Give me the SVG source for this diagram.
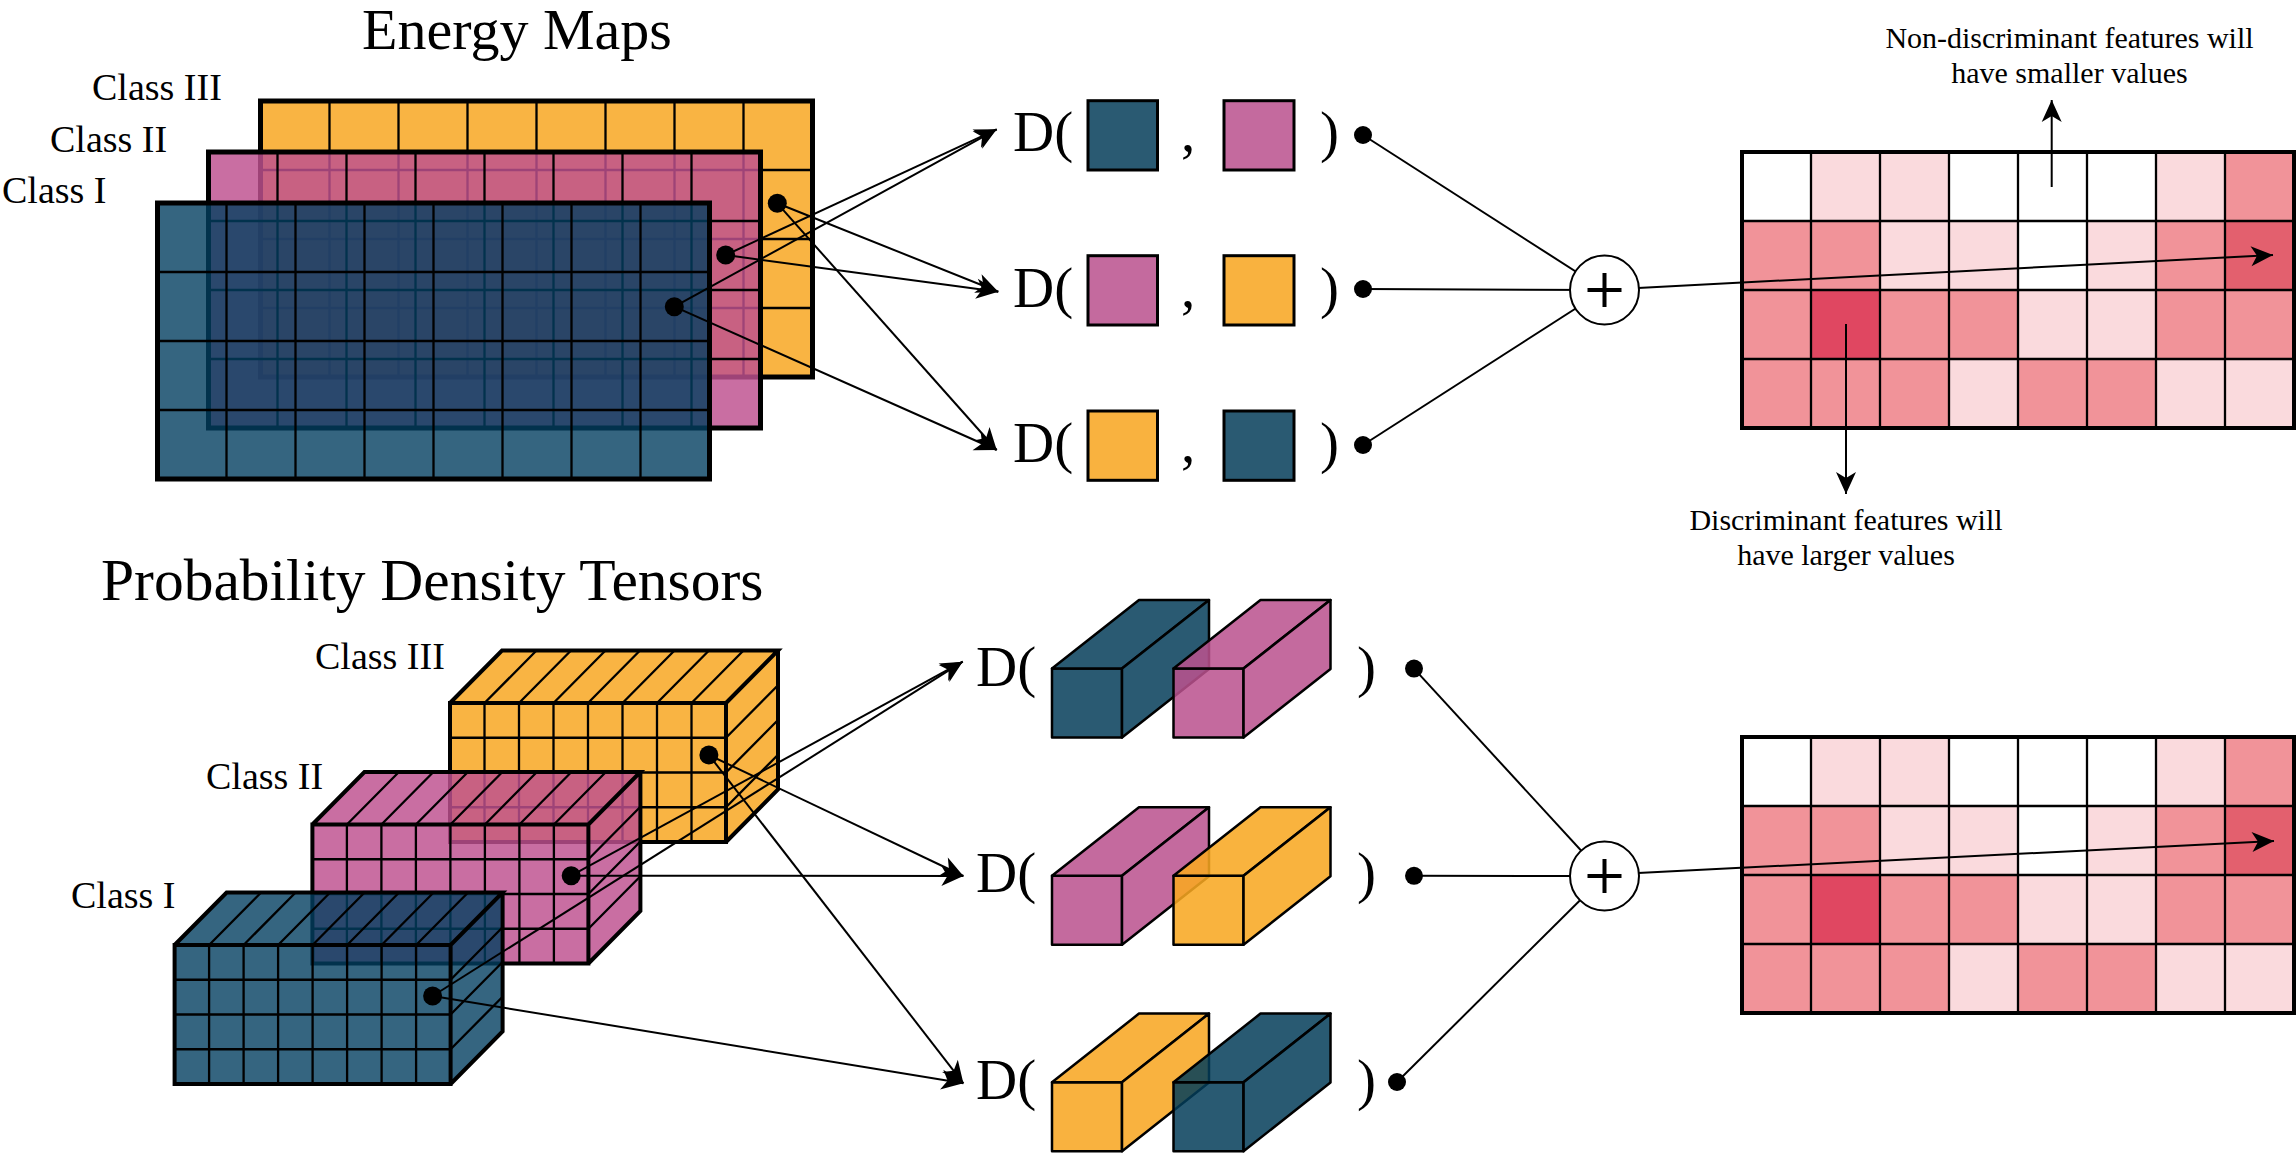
<svg xmlns="http://www.w3.org/2000/svg" xmlns:xlink="http://www.w3.org/1999/xlink" width="2296" height="1154" viewBox="0 0 2296 1154">
<style>
.t{font-family:"Liberation Serif","Times New Roman",serif;fill:#000}
.title{font-size:58px}
.title2{font-size:59.5px}
.cls{font-size:38px}
.D{font-size:57px}
.note{font-size:30px;text-anchor:middle}
.grid{stroke:#000;stroke-width:2.3;fill:none}
.edge{stroke:#000;stroke-width:5;fill:none}
.cedge{stroke:#000;stroke-width:4;fill:none;stroke-linejoin:miter}
.box{stroke:#000;stroke-width:3}
.cub{stroke:#000;stroke-width:2.5;stroke-linejoin:round}
.conn{stroke:#000;stroke-width:2;fill:none}
.arr{stroke:#000;stroke-width:2;fill:none;marker-end:url(#ah)}
.dot{fill:#000}
.plus{fill:#fff;stroke:#000;stroke-width:2}
.pl{stroke:#000;stroke-width:4}
.fy{fill:#f9b443}
.fp{fill:#be508f;fill-opacity:.83}
.fb{fill:#033f60;fill-opacity:.8}
.sb{fill:#2a5a72}
.sp{fill:#c46a9e}
.sy{fill:#f9b23f}
.tp{fill:#ba528e;fill-opacity:.86}
.ty{fill:#f8a821;fill-opacity:.87}
.tb{fill:#043d59;fill-opacity:.85}
.W{fill:#ffffff}.L{fill:#fadadd}.M{fill:#f19399}.R{fill:#e3606e}.X{fill:#e04761}
.hb{stroke:#000;stroke-width:4;fill:none}
</style>
<defs>
<marker id="ah" viewBox="-24 -12 26 24" markerWidth="26" markerHeight="24" refX="0" refY="0" orient="auto" markerUnits="userSpaceOnUse">
<path d="M0,0 L-22,-10 L-16,0 L-22,10 Z" fill="#000"/>
</marker>
<path id="mg" d="M69 0V276M138 0V276M207 0V276M276 0V276M345 0V276M414 0V276M483 0V276M0 69H552M0 138H552M0 207H552"/>
<path id="cg" d="M34.5 0V139M69 0V139M103.5 0V139M138 0V139M172.5 0V139M207 0V139M241.5 0V139M0 34.75H276M0 69.5H276M0 104.25H276M34.5 0L86.5 -52.5M69 0L121 -52.5M103.5 0L155.5 -52.5M138 0L190 -52.5M172.5 0L224.5 -52.5M207 0L259 -52.5M241.5 0L293.5 -52.5M276 34.75L328 -17.75M276 69.5L328 17M276 104.25L328 51.75"/>
<path id="ce" d="M0 0H276V139H0Z M0 0L52 -52.5H328L276 0 M328 -52.5V86.5L276 139"/>
<path id="cf" d="M0 0H276V139H0Z"/>
<path id="ct" d="M0 0L52 -52.5H328L276 0Z"/>
<path id="cr" d="M276 0L328 -52.5V86.5L276 139Z"/>
<path id="qf" d="M0 0H70V69H0Z"/>
<path id="qt" d="M0 0L87 -68.6H157L70 0Z"/>
<path id="qr" d="M70 0L157 -68.6V0.4L70 69Z"/>
<g id="hm">
<rect class="W" x="0" y="0" width="69" height="69"/><rect class="L" x="69" y="0" width="69" height="69"/><rect class="L" x="138" y="0" width="69" height="69"/><rect class="W" x="207" y="0" width="69" height="69"/><rect class="W" x="276" y="0" width="69" height="69"/><rect class="W" x="345" y="0" width="69" height="69"/><rect class="L" x="414" y="0" width="69" height="69"/><rect class="M" x="483" y="0" width="69" height="69"/>
<rect class="M" x="0" y="69" width="69" height="69"/><rect class="M" x="69" y="69" width="69" height="69"/><rect class="L" x="138" y="69" width="69" height="69"/><rect class="L" x="207" y="69" width="69" height="69"/><rect class="W" x="276" y="69" width="69" height="69"/><rect class="L" x="345" y="69" width="69" height="69"/><rect class="M" x="414" y="69" width="69" height="69"/><rect class="R" x="483" y="69" width="69" height="69"/>
<rect class="M" x="0" y="138" width="69" height="69"/><rect class="X" x="69" y="138" width="69" height="69"/><rect class="M" x="138" y="138" width="69" height="69"/><rect class="M" x="207" y="138" width="69" height="69"/><rect class="L" x="276" y="138" width="69" height="69"/><rect class="L" x="345" y="138" width="69" height="69"/><rect class="M" x="414" y="138" width="69" height="69"/><rect class="M" x="483" y="138" width="69" height="69"/>
<rect class="M" x="0" y="207" width="69" height="69"/><rect class="M" x="69" y="207" width="69" height="69"/><rect class="M" x="138" y="207" width="69" height="69"/><rect class="L" x="207" y="207" width="69" height="69"/><rect class="M" x="276" y="207" width="69" height="69"/><rect class="M" x="345" y="207" width="69" height="69"/><rect class="L" x="414" y="207" width="69" height="69"/><rect class="L" x="483" y="207" width="69" height="69"/>
<use xlink:href="#mg" class="grid"/>
<rect class="hb" width="552" height="276"/>
</g>
</defs>

<rect width="2296" height="1154" fill="#fff"/>

<g id="titles">
<text class="t title" x="362" y="49">Energy Maps</text>
<text class="t title2" x="101" y="600">Probability Density Tensors</text>
</g>

<g id="map-class3" transform="translate(260.5,101)">
<rect class="fy" width="552" height="276"/>
<use xlink:href="#mg" class="grid"/>
<rect class="edge" width="552" height="276"/>
</g>
<g id="map-class2" transform="translate(208.5,152)">
<rect class="fp" width="552" height="276"/>
<use xlink:href="#mg" class="grid"/>
<rect class="edge" width="552" height="276"/>
</g>
<g id="map-class1" transform="translate(157.5,203)">
<rect class="fb" width="552" height="276"/>
<use xlink:href="#mg" class="grid"/>
<rect class="edge" width="552" height="276"/>
</g>
<g id="map-labels">
<text class="t cls" x="92" y="100">Class III</text>
<text class="t cls" x="50" y="152">Class II</text>
<text class="t cls" x="2" y="203">Class I</text>
</g>

<g id="cube-class3" transform="translate(450,703)">
<use xlink:href="#cf" class="fy"/><use xlink:href="#ct" class="fy"/><use xlink:href="#cr" class="fy"/>
<use xlink:href="#cg" class="grid"/>
<use xlink:href="#ce" class="cedge"/>
</g>
<g id="cube-class2" transform="translate(312.4,824.5)">
<use xlink:href="#cf" class="fp"/><use xlink:href="#ct" class="fp"/><use xlink:href="#cr" class="fp"/>
<use xlink:href="#cg" class="grid"/>
<use xlink:href="#ce" class="cedge"/>
</g>
<g id="cube-class1" transform="translate(174.6,945)">
<use xlink:href="#cf" class="fb"/><use xlink:href="#ct" class="fb"/><use xlink:href="#cr" class="fb"/>
<use xlink:href="#cg" class="grid"/>
<use xlink:href="#ce" class="cedge"/>
</g>
<g id="cube-labels">
<text class="t cls" x="315" y="669">Class III</text>
<text class="t cls" x="206" y="789">Class II</text>
<text class="t cls" x="71" y="908">Class I</text>
</g>

<g id="d-map-1">
<text class="t D" x="1013" y="151">D(</text>
<rect class="box sb" x="1088" y="100.7" width="69.5" height="69.3"/>
<text class="t D" x="1181" y="151">,</text>
<rect class="box sp" x="1224" y="100.7" width="70" height="69.3"/>
<text class="t D" x="1320" y="151">)</text>
</g>
<g id="d-map-2">
<text class="t D" x="1013" y="307">D(</text>
<rect class="box sp" x="1088" y="255.7" width="69.5" height="69.3"/>
<text class="t D" x="1181" y="307">,</text>
<rect class="box sy" x="1224" y="255.7" width="70" height="69.3"/>
<text class="t D" x="1320" y="307">)</text>
</g>
<g id="d-map-3">
<text class="t D" x="1013" y="462">D(</text>
<rect class="box sy" x="1088" y="411" width="69.5" height="69.3"/>
<text class="t D" x="1181" y="462">,</text>
<rect class="box sb" x="1224" y="411" width="70" height="69.3"/>
<text class="t D" x="1320" y="462">)</text>
</g>

<g id="d-tensor-1">
<text class="t D" x="976" y="686">D(</text>
<g transform="translate(1052,668.6)"><use xlink:href="#qf" class="cub sb"/><use xlink:href="#qt" class="cub sb"/><use xlink:href="#qr" class="cub sb"/></g>
<g transform="translate(1173.5,668.6)"><use xlink:href="#qf" class="cub tp"/><use xlink:href="#qt" class="cub tp"/><use xlink:href="#qr" class="cub tp"/></g>
<text class="t D" x="1357" y="686">)</text>
</g>
<g id="d-tensor-2">
<text class="t D" x="976" y="892">D(</text>
<g transform="translate(1052,875.8)"><use xlink:href="#qf" class="cub sp"/><use xlink:href="#qt" class="cub sp"/><use xlink:href="#qr" class="cub sp"/></g>
<g transform="translate(1173.5,875.8)"><use xlink:href="#qf" class="cub ty"/><use xlink:href="#qt" class="cub ty"/><use xlink:href="#qr" class="cub ty"/></g>
<text class="t D" x="1357" y="892">)</text>
</g>
<g id="d-tensor-3">
<text class="t D" x="976" y="1099">D(</text>
<g transform="translate(1052,1082.2)"><use xlink:href="#qf" class="cub sy"/><use xlink:href="#qt" class="cub sy"/><use xlink:href="#qr" class="cub sy"/></g>
<g transform="translate(1173.5,1082.2)"><use xlink:href="#qf" class="cub tb"/><use xlink:href="#qt" class="cub tb"/><use xlink:href="#qr" class="cub tb"/></g>
<text class="t D" x="1357" y="1099">)</text>
</g>

<g id="heatmap-maps" transform="translate(1742,152)"><use xlink:href="#hm"/></g>
<g id="heatmap-tensors" transform="translate(1742,737)"><use xlink:href="#hm"/></g>

<g id="connectors">
<line class="arr" x1="674.3" y1="306.7" x2="996.7" y2="129.3"/>
<line class="arr" x1="725.7" y1="255" x2="996.7" y2="129.3"/>
<line class="arr" x1="725.7" y1="255" x2="998.3" y2="291.7"/>
<line class="arr" x1="777.3" y1="203.3" x2="998.3" y2="291.7"/>
<line class="arr" x1="777.3" y1="203.3" x2="996.7" y2="450"/>
<line class="arr" x1="674.3" y1="306.7" x2="996.7" y2="450"/>
<line class="arr" x1="432.6" y1="996" x2="962.7" y2="661.7"/>
<line class="arr" x1="571.2" y1="875.7" x2="962.7" y2="661.7"/>
<line class="arr" x1="571.2" y1="875.7" x2="963.4" y2="876"/>
<line class="arr" x1="708.9" y1="755" x2="963.4" y2="876"/>
<line class="arr" x1="708.9" y1="755" x2="963.4" y2="1083.3"/>
<line class="arr" x1="432.6" y1="996" x2="963.4" y2="1083.3"/>
<line class="conn" x1="1363" y1="135" x2="1604.5" y2="290"/>
<line class="conn" x1="1363" y1="289" x2="1604.5" y2="290"/>
<line class="conn" x1="1363" y1="445" x2="1604.5" y2="290"/>
<line class="conn" x1="1414" y1="668.6" x2="1604.5" y2="876"/>
<line class="conn" x1="1414" y1="875.8" x2="1604.5" y2="876"/>
<line class="conn" x1="1397" y1="1082" x2="1604.5" y2="876"/>
<line class="arr" x1="1638" y1="288" x2="2273" y2="255"/>
<line class="arr" x1="1638" y1="873" x2="2274" y2="841"/>
<line class="arr" x1="2051.7" y1="187" x2="2051.7" y2="100"/>
<line class="arr" x1="1846" y1="324" x2="1846" y2="494"/>
</g>

<g id="dots">
<circle class="dot" cx="777.3" cy="203.3" r="9.5"/>
<circle class="dot" cx="725.7" cy="255" r="9.5"/>
<circle class="dot" cx="674.3" cy="306.7" r="9.5"/>
<circle class="dot" cx="708.9" cy="755" r="9.5"/>
<circle class="dot" cx="571.2" cy="875.7" r="9.5"/>
<circle class="dot" cx="432.6" cy="996" r="9.5"/>
<circle class="dot" cx="1363" cy="135" r="9"/>
<circle class="dot" cx="1363" cy="289" r="9"/>
<circle class="dot" cx="1363" cy="445" r="9"/>
<circle class="dot" cx="1414" cy="668.6" r="9"/>
<circle class="dot" cx="1414" cy="875.8" r="9"/>
<circle class="dot" cx="1397" cy="1082" r="9"/>
</g>

<g id="sum-maps">
<circle class="plus" cx="1604.5" cy="290" r="34.5"/>
<path class="pl" d="M1587.5 290H1621.5M1604.5 273V307"/>
</g>
<g id="sum-tensors">
<circle class="plus" cx="1604.5" cy="876" r="34.5"/>
<path class="pl" d="M1587.5 876H1621.5M1604.5 859V893"/>
</g>

<g id="notes">
<text class="t note" x="2069.5" y="48">Non-discriminant features will</text>
<text class="t note" x="2069.5" y="83">have smaller values</text>
<text class="t note" x="1846" y="530">Discriminant features will</text>
<text class="t note" x="1846" y="565">have larger values</text>
</g>
</svg>
